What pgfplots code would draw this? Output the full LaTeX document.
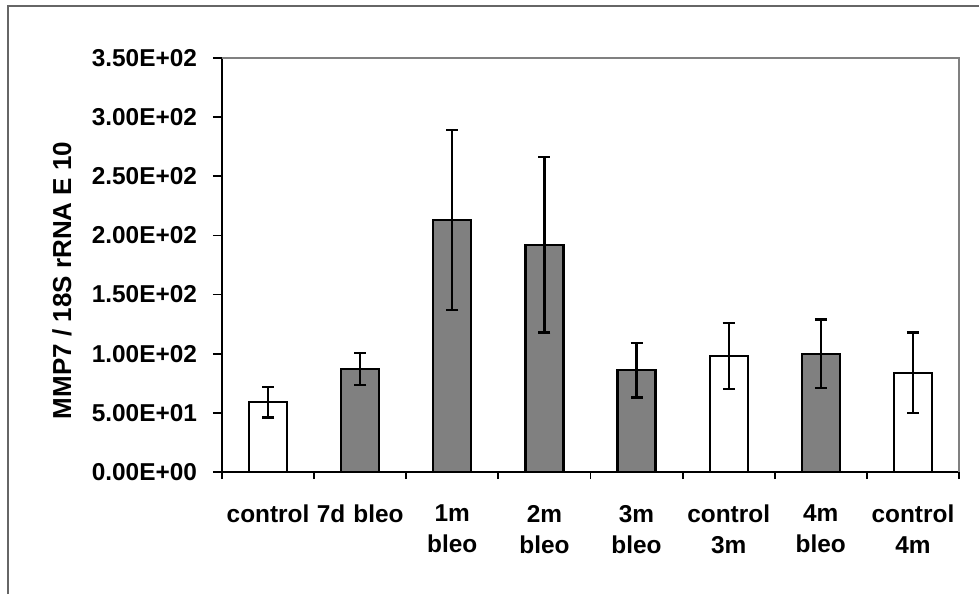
\documentclass[border=0pt]{standalone}
\usepackage{fontspec}
\setmainfont{Liberation Sans}
\usepackage{pgfplots}
\pgfplotsset{compat=1.18}
\definecolor{barg}{HTML}{808080}
\definecolor{frameg}{HTML}{666666}
\begin{document}
\begin{tikzpicture}
\useasboundingbox (-111pt,-61pt) rectangle (378.5pt,236pt);
\begin{axis}[
  at={(0,0)}, anchor=south west,
  scale only axis, width=368.5pt, height=207pt,
  xmin=-0.5, xmax=7.5, ymin=0, ymax=350,
  axis x line*=bottom, axis y line*=left,
  axis line style={black, line width=0.9pt},
  ytick={0,50,...,350},
  yticklabels={0.00E+00,5.00E+01,1.00E+02,1.50E+02,2.00E+02,2.50E+02,3.00E+02,3.50E+02},
  xtick={0,...,7},
  xticklabels={control,7d bleo,1m\\bleo,2m\\bleo,3m\\bleo,control\\3m,4m\\bleo,control\\4m},
  minor xtick={-0.5,0.5,...,7.5},
  major x tick style={draw=none},
  minor x tick style={draw=black, line width=0.9pt},
  tick style={black, line width=0.9pt},
  tick align=outside,
  major tick length=4.5pt,
  minor tick length=3.5pt,
  yticklabel style={font=\bfseries\fontsize{12.2}{14}\selectfont, xshift=-4.5pt},
  xticklabel style={font=\bfseries\fontsize{12.2}{15.5}\selectfont, align=center, text width=50pt, yshift=-8.5pt},
  ylabel={MMP7 / 18S rRNA E 10},
  ylabel style={at={(axis description cs:-0.217,0.463)}, anchor=center, font=\bfseries\fontsize{13}{15}\selectfont},
  ybar, bar width=19pt,
  clip=false,
  error bars/error bar style={black, line width=1.1pt},
  error bars/error mark options={rotate=90, mark size=3pt, line width=1.1pt, black},
]
\addplot[fill=white, draw=black, line width=1.1pt, bar shift=0pt,
  error bars/.cd, y dir=both, y explicit]
  coordinates {(0,59) +- (0,13) (5,98) +- (0,28) (7,84) +- (0,34)};
\addplot[fill=barg, draw=black, line width=1.1pt, bar shift=0pt,
  error bars/.cd, y dir=both, y explicit]
  coordinates {(1,87) +- (0,13.5) (2,213) +- (0,76) (3,192) +- (0,74) (4,86) +- (0,23) (6,100) +- (0,29)};
\draw[color=barg, line width=1pt] (rel axis cs:0,1) -- (rel axis cs:1,1) -- (rel axis cs:1,0);
\end{axis}
\draw[color=frameg, line width=1pt] (-107pt,-61pt) -- (-107pt,233pt) -- (378.5pt,233pt);
\end{tikzpicture}
\end{document}
